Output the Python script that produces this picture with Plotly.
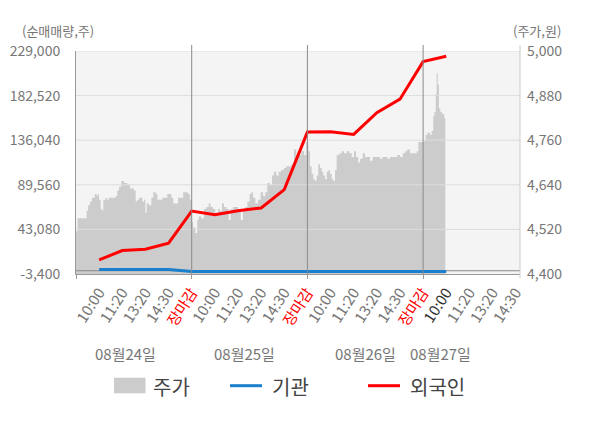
import plotly.graph_objects as go

# ---- data ----
days = ["08월24일", "08월25일", "08월26일", "08월27일"]
time_labels = ["10:00", "11:20", "13:20", "14:30", "장마감"]

# stock price (right axis), x in trading-day units
price_t_d0 = [0.000, 0.013, 0.084, 0.092, 0.104, 0.121, 0.138, 0.162, 0.179, 0.190, 0.199,
              0.213, 0.227, 0.236, 0.257, 0.271, 0.285, 0.305, 0.328, 0.343, 0.357, 0.372,
              0.392, 0.415, 0.443, 0.467, 0.487, 0.501, 0.516, 0.530, 0.545, 0.559, 0.573,
              0.588, 0.599, 0.611, 0.631, 0.651, 0.668, 0.689, 0.703, 0.726, 0.746, 0.767,
              0.789, 0.812, 0.824, 0.841, 0.862, 0.882, 0.905, 0.927, 0.948, 0.968, 0.985]
price_d0 = [4515, 4550, 4550, 4570, 4585, 4595, 4605, 4615, 4610, 4615, 4600,
            4575, 4570, 4600, 4605, 4600, 4605, 4605, 4605, 4610, 4625, 4635,
            4650, 4645, 4640, 4630, 4630, 4625, 4595, 4600, 4605, 4605, 4595,
            4600, 4565, 4590, 4585, 4605, 4620, 4615, 4600, 4600, 4605, 4605,
            4615, 4615, 4605, 4590, 4590, 4605, 4605, 4620, 4620, 4615, 4600]
price_t_d1 = [1.003, 1.011, 1.031, 1.048, 1.060, 1.083, 1.106, 1.126, 1.147, 1.164, 1.184,
              1.204, 1.227, 1.242, 1.262, 1.279, 1.299, 1.320, 1.337, 1.357, 1.377, 1.400,
              1.424, 1.443, 1.463, 1.481, 1.501, 1.515, 1.530, 1.550, 1.573, 1.596, 1.616,
              1.636, 1.653, 1.674, 1.694, 1.711, 1.731, 1.752, 1.774, 1.798, 1.818, 1.838,
              1.861, 1.884, 1.904, 1.925, 1.947, 1.971, 1.990]
price_d1 = [4540, 4525, 4510, 4545, 4555, 4550, 4575, 4580, 4590, 4580, 4575,
            4560, 4575, 4570, 4590, 4580, 4575, 4545, 4575, 4580, 4580, 4575,
            4545, 4570, 4580, 4595, 4615, 4620, 4605, 4590, 4600, 4620, 4610,
            4620, 4645, 4640, 4665, 4675, 4665, 4675, 4680, 4685, 4690, 4690,
            4695, 4735, 4710, 4720, 4730, 4720, 4755]
price_t_d2 = [2.008, 2.022, 2.037, 2.051, 2.066, 2.080, 2.094, 2.109, 2.124, 2.137, 2.152,
              2.167, 2.181, 2.195, 2.210, 2.224, 2.239, 2.253, 2.276, 2.296, 2.316, 2.340,
              2.362, 2.383, 2.403, 2.420, 2.440, 2.455, 2.478, 2.498, 2.518, 2.541, 2.564,
              2.584, 2.604, 2.627, 2.650, 2.671, 2.691, 2.714, 2.737, 2.757, 2.777, 2.800,
              2.824, 2.844, 2.863, 2.887, 2.915, 2.945, 2.959, 2.988]
price_d2 = [4730, 4690, 4670, 4655, 4650, 4665, 4695, 4685, 4675, 4665, 4655,
            4675, 4680, 4670, 4655, 4650, 4680, 4720, 4725, 4730, 4725, 4730,
            4725, 4715, 4730, 4715, 4700, 4710, 4725, 4715, 4715, 4705, 4715,
            4715, 4715, 4710, 4715, 4715, 4710, 4715, 4715, 4715, 4720, 4715,
            4725, 4730, 4735, 4725, 4725, 4730, 4755, 4755]
price_t_d3 = [3.010, 3.022, 3.040, 3.060, 3.074, 3.088, 3.097, 3.109, 3.117, 3.126, 3.137,
              3.149, 3.166, 3.183, 3.192]
price_d3 = [4760, 4775, 4780, 4775, 4785, 4825, 4835, 4885, 4940, 4910, 4845,
            4835, 4830, 4820, 4820]

# net buying volume (left axis), one value per time label
foreign = [11300, 21000, 22500, 28700, 62200, 58400, 62600, 65400, 84500,
           144500, 144900, 142100, 164800, 178800, 217900, 223500]
institution = [1200, 1200, 1200, 1200, -900, -900, -900, -900, -900,
               -900, -900, -900, -900, -900, -900, -900]

vol_ticks = [-3400, 43080, 89560, 136040, 182520, 229000]
price_ticks = [4400, 4520, 4640, 4760, 4880, 5000]

# ---- layout helpers (page pixels; the page body adds an 8px offset) ----
OFF = 8
W, H = 600 - OFF, 428 - OFF
L, R, T, B = 76, 520, 51, 274
X_MAX = (R - L) / 115.7
GRAY = "#767676"
FONT = "Noto Sans CJK KR"


def px(x):
    return (x - L) / (R - L)


def py(y):
    return (B - y) / (B - T)


price_t = price_t_d0 + price_t_d1 + price_t_d2 + price_t_d3
price = price_d0 + price_d1 + price_d2 + price_d3

tick_pos, tick_text = [], []
for d in range(len(days)):
    for j, lab in enumerate(time_labels):
        pos = d + (j + 1) / len(time_labels)
        if pos > X_MAX:
            continue
        tick_pos.append(round(pos, 3))
        if lab == "장마감":
            tick_text.append("<span style='color:#ff0000'>%s</span>" % lab)
        elif d == len(days) - 1 and j == 0:
            tick_text.append("<span style='color:#333333'>%s</span>" % lab)
        else:
            tick_text.append(lab)

flow_x = tick_pos[:len(foreign)]

fig = go.Figure()
fig.add_trace(go.Scatter(
    x=price_t, y=price, yaxis="y", mode="lines", fill="tozeroy",
    fillcolor="#cccccc", line=dict(width=0, shape="hv"), hoverinfo="skip",
))
# grid lines drawn above the price area
gx, gy = [], []
for v in price_ticks[1:]:
    gx += [0, X_MAX, None]
    gy += [v, v, None]
fig.add_trace(go.Scatter(x=gx, y=gy, yaxis="y", mode="lines",
                         line=dict(color="#dddddd", width=1), hoverinfo="skip"))
fig.add_trace(go.Scatter(x=[0, X_MAX], y=[0, 0], yaxis="y2", mode="lines",
                         line=dict(color="#888888", width=1), hoverinfo="skip"))
fig.add_trace(go.Scatter(x=flow_x, y=institution, yaxis="y2", mode="lines",
                         line=dict(color="#1a7fcc", width=3), name="기관"))
fig.add_trace(go.Scatter(x=flow_x, y=foreign, yaxis="y2", mode="lines",
                         line=dict(color="#ff0000", width=3), name="외국인"))

shapes = []
for d in range(1, len(days)):
    shapes.append(dict(type="line", xref="x", yref="paper", x0=d, x1=d,
                       y0=0, y1=py(45), line=dict(color="#8a8a8a", width=1), layer="above"))
shapes.append(dict(type="line", xref="paper", yref="paper", x0=1, x1=1,
                   y0=py(278), y1=py(45), line=dict(color="#cccccc", width=1), layer="above"))
# legend
shapes.append(dict(type="rect", xref="paper", yref="paper", x0=px(114), x1=px(145.5),
                   y0=py(377.7), y1=py(393.3), fillcolor="#cccccc", line=dict(width=0)))
shapes.append(dict(type="line", xref="paper", yref="paper", x0=px(230), x1=px(262),
                   y0=py(385.7), y1=py(385.7), line=dict(color="#1a7fcc", width=3)))
shapes.append(dict(type="line", xref="paper", yref="paper", x0=px(368), x1=px(400),
                   y0=py(385.7), y1=py(385.7), line=dict(color="#ff0000", width=3)))

annotations = []
for txt, x0 in [("주가", 151), ("기관", 270), ("외국인", 408)]:
    annotations.append(dict(text=txt, xref="paper", yref="paper", x=px(x0), y=py(386.5),
                            xanchor="left", yanchor="middle", showarrow=False,
                            font=dict(size=20, color="#444444", family=FONT)))
date_pos = [0.424, 1.46, 2.50, 3.15]
for txt, x0 in zip(days, date_pos):
    annotations.append(dict(text=txt, xref="x", yref="paper", x=x0, y=py(353),
                            xanchor="center", yanchor="middle", showarrow=False,
                            font=dict(size=15, color=GRAY, family=FONT)))
annotations.append(dict(text="(순매매량,주)", xref="paper", yref="paper", x=px(58), y=py(31),
                        xanchor="center", yanchor="middle", showarrow=False,
                        font=dict(size=13, color=GRAY, family=FONT)))
annotations.append(dict(text="(주가,원)", xref="paper", yref="paper", x=px(537), y=py(31),
                        xanchor="center", yanchor="middle", showarrow=False,
                        font=dict(size=13, color=GRAY, family=FONT)))

fig.update_layout(
    width=W, height=H,
    margin=dict(l=L - OFF, r=W - (R - OFF), t=T - OFF, b=H - (B - OFF)),
    paper_bgcolor="white", plot_bgcolor="#f4f4f4",
    showlegend=False,
    font=dict(family=FONT, color=GRAY, size=14),
    xaxis=dict(range=[0, X_MAX], tickvals=tick_pos, ticktext=tick_text, tickangle=-57,
               tickfont=dict(size=15, color=GRAY), ticks="", showgrid=False, zeroline=False,
               showline=True, linecolor="#999999", ticklabelstandoff=3, automargin=False,
               minor=dict(tickvals=list(range(len(days))), ticks="outside", ticklen=4,
                          tickcolor="#999999")),
    yaxis=dict(side="right", range=[price_ticks[0], price_ticks[-1]], tickvals=price_ticks,
               ticktext=["{:,}".format(v) for v in price_ticks], showgrid=False,
               zeroline=False, showline=False, ticks="", ticklabelstandoff=6,
               automargin=False, tickfont=dict(size=14, color=GRAY)),
    yaxis2=dict(side="left", overlaying="y", range=[vol_ticks[0], vol_ticks[-1]],
                tickvals=vol_ticks, ticktext=["{:,}".format(v) for v in vol_ticks],
                showgrid=False, zeroline=False, showline=True, linecolor="#999999",
                ticks="", ticklabelstandoff=12, automargin=False,
                tickfont=dict(size=14, color=GRAY)),
    shapes=shapes, annotations=annotations,
)

fig.write_html("out.html")
